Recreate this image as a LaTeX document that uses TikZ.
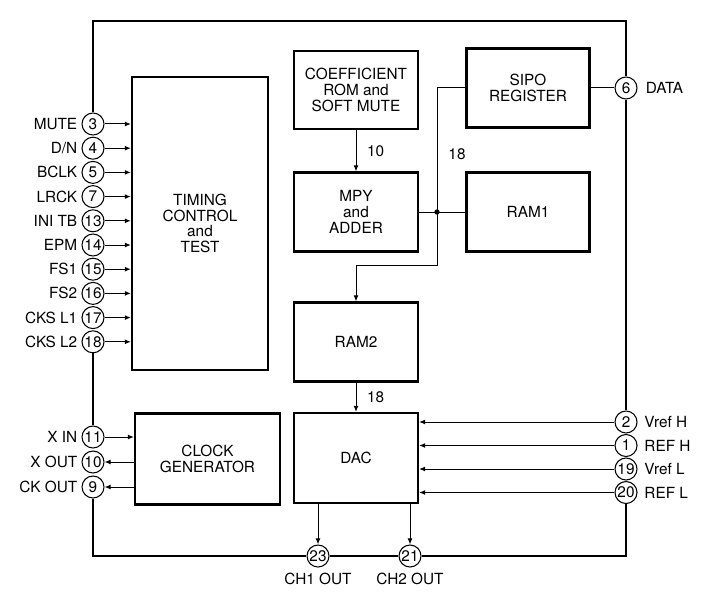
\documentclass[tikz,border=0pt]{standalone}
\usepackage{fontspec}
\setmainfont{TeX Gyre Heros}
\usepackage{tikz}
\usetikzlibrary{arrows.meta,positioning}

\begin{document}
\begin{tikzpicture}[
  x=0.75pt,y=-0.75pt,
  font=\fontsize{11.5}{11.8}\selectfont,
  block/.style={draw,line width=1.7pt,align=center,inner sep=2pt},
  pinc/.style={draw,circle,line width=0.8pt,minimum size=16.5pt,inner sep=0pt},
  pinlabel/.style={inner sep=1pt},
  numlabel/.style={inner sep=1pt},
  dot/.style={circle,fill,inner sep=1.4pt},
  wire/.style={line width=0.75pt},
  arrow/.style={wire,-{Latex[length=1.6mm,width=1.3mm]}},
  border/.style={line width=2pt}
]
  \useasboundingbox (0,0) rectangle (712,602);
  % blocks
  \node[block,minimum width=102pt,minimum height=219.75pt] (timing) at (200,223.5) {TIMING\\CONTROL\\and\\TEST};
  \node[block,minimum width=108.75pt,minimum height=68.25pt] (clockgen) at (207.5,459) {CLOCK\\GENERATOR};
  \node[block,minimum width=93pt,minimum height=58.5pt] (coef) at (356,90) {COEFFICIENT\\ROM and\\SOFT MUTE};
  \node[block,minimum width=92.25pt,minimum height=59.25pt] (sipo) at (528,88) {SIPO\\REGISTER};
  \node[block,minimum width=93pt,minimum height=59.25pt] (mpy) at (356,212) {MPY\\and\\ADDER};
  \node[block,minimum width=92.25pt,minimum height=59.25pt] (ram1) at (528,212) {RAM1};
  \node[block,minimum width=93pt,minimum height=59.25pt] (ram2) at (356,342) {RAM2};
  \node[block,minimum width=93pt,minimum height=67.5pt] (dac) at (356,458) {DAC};
  % left pins
  \node[pinc] (p3) at (93,124) {3};
  \node[pinc] (p4) at (93,148.2) {4};
  \node[pinc] (p5) at (93,172.4) {5};
  \node[pinc] (p7) at (93,196.6) {7};
  \node[pinc] (p13) at (93,220.8) {13};
  \node[pinc] (p14) at (93,245) {14};
  \node[pinc] (p15) at (93,269.2) {15};
  \node[pinc] (p16) at (93,293.4) {16};
  \node[pinc] (p17) at (93,317.6) {17};
  \node[pinc] (p18) at (93,341.8) {18};
  \node[pinc] (p11) at (93,437) {11};
  \node[pinc] (p10) at (93,462) {10};
  \node[pinc] (p9) at (93,487) {9};
  \node[pinlabel,left=2pt of p3] (lmute) {MUTE};
  \node[pinlabel,left=2pt of p4] (ldn) {D/N};
  \node[pinlabel,left=2pt of p5] (lbclk) {BCLK};
  \node[pinlabel,left=2pt of p7] (llrck) {LRCK};
  \node[pinlabel,left=2pt of p13] (linitb) {INI TB};
  \node[pinlabel,left=2pt of p14] (lepm) {EPM};
  \node[pinlabel,left=2pt of p15] (lfs1) {FS1};
  \node[pinlabel,left=2pt of p16] (lfs2) {FS2};
  \node[pinlabel,left=2pt of p17] (lcksl1) {CKS L1};
  \node[pinlabel,left=2pt of p18] (lcksl2) {CKS L2};
  \node[pinlabel,left=2pt of p11] (lxin) {X IN};
  \node[pinlabel,left=2pt of p10] (lxout) {X OUT};
  \node[pinlabel,left=2pt of p9] (lckout) {CK OUT};
  % right and bottom pins
  \node[pinc] (p6) at (626,88) {6};
  \node[pinc] (p2) at (626,422) {2};
  \node[pinc] (p1) at (626,445.5) {1};
  \node[pinc] (p19) at (626,469) {19};
  \node[pinc] (p20) at (626,492.5) {20};
  \node[pinc] (p23) at (318,556) {23};
  \node[pinc] (p21) at (410,556) {21};
  \node[pinlabel,right=5pt of p6] (ldata) {DATA};
  \node[pinlabel,right=4pt of p2] (lvrefh) {Vref H};
  \node[pinlabel,right=4pt of p1] (lrefh) {REF H};
  \node[pinlabel,right=4pt of p19] (lvrefl) {Vref L};
  \node[pinlabel,right=4pt of p20] (lrefl) {REF L};
  \node[pinlabel,below=3pt of p23] (lch1) {CH1 OUT};
  \node[pinlabel,below=3pt of p21] (lch2) {CH2 OUT};
  % package outline
  \coordinate (ctop) at (350,21);
  \draw[border] (p3) -- (p3 |- ctop) -- (p6 |- ctop) -- (p6);
  \draw[border] (p6) -- (p2);
  \draw[border] (p18) -- (p11);
  \draw[border] (p9) -- (p9 |- p23) -- (p23);
  \draw[border] (p23) -- (p21);
  \draw[border] (p21) -- (p20 |- p21) -- (p20);
  % inputs to timing
  \draw[arrow] (p3) -- (p3 -| timing.west);
  \draw[arrow] (p4) -- (p4 -| timing.west);
  \draw[arrow] (p5) -- (p5 -| timing.west);
  \draw[arrow] (p7) -- (p7 -| timing.west);
  \draw[arrow] (p13) -- (p13 -| timing.west);
  \draw[arrow] (p14) -- (p14 -| timing.west);
  \draw[arrow] (p15) -- (p15 -| timing.west);
  \draw[arrow] (p16) -- (p16 -| timing.west);
  \draw[arrow] (p17) -- (p17 -| timing.west);
  \draw[arrow] (p18) -- (p18 -| timing.west);
  % clock generator
  \draw[arrow] (p11) -- (p11 -| clockgen.west);
  \draw[arrow] (p10 -| clockgen.west) -- (p10);
  \draw[arrow] (p9 -| clockgen.west) -- (p9);
  % data path
  \draw[wire] (sipo) -- (p6);
  \draw[arrow] (coef) -- node[numlabel,right=7pt] (w10) {10} (mpy);
  \draw[wire] (mpy) -- (ram1);
  \node[dot] (jdot) at (437,212) {};
  \coordinate (bend) at (437,265);
  \draw[arrow] (sipo.west) -| (bend) -| (ram2.north);
  \node[numlabel] (w18a) at (457,154) {18};
  \draw[arrow] (ram2) -- node[numlabel,right=7pt] (w18b) {18} (dac);
  % dac references and outputs
  \draw[arrow] (p2) -- (p2 -| dac.east);
  \draw[arrow] (p1) -- (p1 -| dac.east);
  \draw[arrow] (p19) -- (p19 -| dac.east);
  \draw[arrow] (p20) -- (p20 -| dac.east);
  \draw[arrow] (p23 |- dac.south) -- (p23);
  \draw[arrow] (p21 |- dac.south) -- (p21);
\end{tikzpicture}
\end{document}
